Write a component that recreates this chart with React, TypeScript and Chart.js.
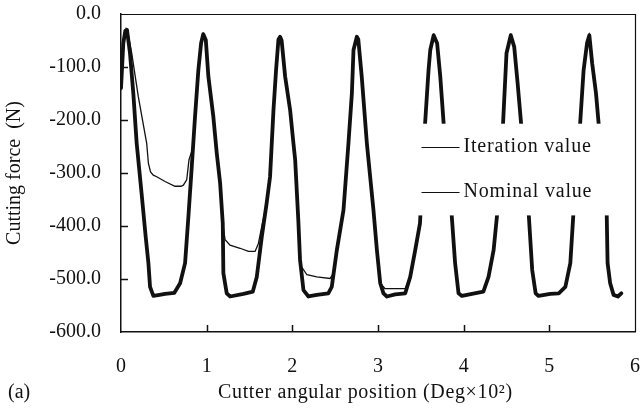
import React, { useEffect, useRef } from "react";
import { Chart, registerables } from "chart.js";

Chart.register(...registerables);

// Cutter angular position (Deg x 10^2) and cutting force (N)
const iterationX = [
  0.0, 0.027, 0.05, 0.07, 0.105, 0.144, 0.183, 0.24, 0.288, 0.32, 0.339, 0.378, 0.45, 0.514, 0.623, 0.69,
  0.748, 0.787, 0.826, 0.864, 0.903, 0.935, 0.96, 0.99, 1.02, 1.078, 1.118, 1.157, 1.188, 1.195, 1.234,
  1.273, 1.43, 1.538, 1.585, 1.644, 1.7, 1.74, 1.78, 1.81, 1.838, 1.857, 1.875, 1.916, 1.974, 2.013, 2.033,
  2.07, 2.09, 2.13, 2.188, 2.286, 2.42, 2.46, 2.52, 2.597, 2.655, 2.695, 2.714, 2.753, 2.77, 2.81, 2.87,
  2.947, 2.987, 3.026, 3.064, 3.104, 3.2, 3.318, 3.376, 3.435, 3.49, 3.55, 3.59, 3.61, 3.65, 3.69, 3.727,
  3.766, 3.86, 3.9, 3.94, 3.98, 4.097, 4.23, 4.29, 4.35, 4.39, 4.46, 4.5, 4.55, 4.59, 4.63, 4.67, 4.76,
  4.8, 4.84, 4.875, 5.01, 5.11, 5.187, 5.245, 5.28, 5.36, 5.4, 5.44, 5.467, 5.5, 5.545, 5.575, 5.67, 5.68,
  5.71, 5.75, 5.8, 5.84,
];
const iterationY = [
  -140, -55, -32, -30, -74, -150, -244, -338, -420, -470, -515, -532, -530, -528, -526, -508,
  -470, -382, -288, -194, -106, -55, -38, -49, -118, -194, -263, -319, -395, -489, -527,
  -533, -528, -524, -496, -420, -357, -307, -181, -106, -48, -43, -50, -118, -181, -244, -275,
  -390, -464, -521, -533, -530, -527, -515, -445, -370, -244, -150, -68, -43, -48, -118, -244,
  -370, -445, -508, -527, -533, -529, -527, -496, -445, -395, -206, -106, -68, -40, -55, -118,
  -206, -379, -470, -527, -532, -528, -524, -496, -445, -379, -206, -74, -40, -62, -131, -206, -379,
  -483, -527, -532, -528, -527, -515, -470, -379, -206, -106, -55, -40, -93, -150, -206, -379, -470,
  -508, -530, -533, -527,
];

const nominalX = [
  0.0, 0.027, 0.06, 0.08, 0.125, 0.202, 0.3, 0.32, 0.345, 0.377, 0.417, 0.514, 0.63, 0.7, 0.728, 0.767,
  0.794, 0.845, 0.864, 0.903, 0.935, 0.96, 0.99, 1.02, 1.078, 1.118, 1.157, 1.188, 1.215, 1.273, 1.39,
  1.487, 1.565, 1.604, 1.644, 1.7, 1.74, 1.78, 1.81, 1.838, 1.857, 1.875, 1.916, 1.974, 2.013, 2.033, 2.07,
  2.1, 2.17, 2.286, 2.44, 2.48, 2.52, 2.597, 2.655, 2.695, 2.714, 2.753, 2.77, 2.81, 2.87, 2.947, 2.987,
  3.026, 3.08, 3.318, 3.35, 3.376, 3.435, 3.49, 3.55, 3.59, 3.61, 3.65, 3.69, 3.727, 3.766, 3.86, 3.9,
  3.94, 3.98, 4.097, 4.23, 4.29, 4.35, 4.39, 4.46, 4.5, 4.55, 4.59, 4.63, 4.67, 4.76, 4.8, 4.84, 4.875,
  5.01, 5.11, 5.187, 5.245, 5.28, 5.36, 5.4, 5.44, 5.467, 5.5, 5.545, 5.575, 5.67, 5.68, 5.71, 5.75, 5.8,
  5.84,
];
const nominalY = [
  -140, -55, -28, -35, -74, -156, -244, -282, -298, -304, -307, -316, -325, -325, -323, -313,
  -275, -250, -200, -106, -55, -38, -49, -118, -194, -263, -319, -395, -426, -436, -442,
  -448, -448, -433, -400, -357, -307, -181, -106, -48, -43, -50, -118, -181, -244, -275, -390,
  -475, -492, -496, -499, -490, -445, -370, -244, -150, -68, -43, -48, -118, -244, -370, -445,
  -508, -518, -518, -505, -496, -445, -395, -206, -106, -68, -40, -55, -118, -206, -379, -470,
  -527, -532, -528, -524, -496, -445, -379, -206, -74, -40, -62, -131, -206, -379, -483, -527, -532,
  -528, -527, -515, -470, -379, -206, -106, -55, -40, -93, -150, -206, -379, -470, -508, -530, -533,
  -527,
];

const seriesNames = ["Iteration value", "Nominal value"];
const xTitle = "Cutter angular position (Deg\u00d710\u00b2)";
const yTitle = "Cutting force  (N)";
const panelLabel = "(a)";

const INK = "#111111";
const FONT = "'Liberation Serif', 'Times New Roman', serif";

const framePlugin = {
  id: "frameAndLegend",
  afterDatasetsDraw(chart: any) {
    const { ctx, chartArea, scales } = chart;
    const xs = scales.x;
    const ys = scales.y;
    ctx.save();
    // legend mask + entries
    const lx0 = xs.getPixelForValue(3.45);
    const ly0 = ys.getPixelForValue(-207);
    const ly1 = ys.getPixelForValue(-380);
    ctx.fillStyle = "#ffffff";
    ctx.fillRect(lx0, ly0, chartArea.right - lx0 - 1, ly1 - ly0);
    const rowY = [ys.getPixelForValue(-251), ys.getPixelForValue(-336)];
    ctx.strokeStyle = INK;
    ctx.lineWidth = 1.2;
    ctx.fillStyle = INK;
    ctx.font = `20px ${FONT}`;
    ctx.letterSpacing = "0.8px";
    ctx.textBaseline = "middle";
    ctx.textAlign = "left";
    seriesNames.forEach((name, i) => {
      const y = Math.round(rowY[i]) + 0.5;
      ctx.beginPath();
      ctx.moveTo(lx0 + 5, y);
      ctx.lineTo(lx0 + 43, y);
      ctx.stroke();
      ctx.fillText(name, lx0 + 47, rowY[i]);
    });
    ctx.letterSpacing = "0px";
    // frame top and right
    ctx.lineWidth = 1.2;
    ctx.beginPath();
    ctx.moveTo(chartArea.left, chartArea.top + 0.5);
    ctx.lineTo(chartArea.right + 0.5, chartArea.top + 0.5);
    ctx.lineTo(chartArea.right + 0.5, chartArea.bottom);
    ctx.stroke();
    // inward ticks
    ctx.lineWidth = 1.5;
    for (let v = 1; v <= 5; v++) {
      const px = Math.round(xs.getPixelForValue(v)) + 0.5;
      ctx.beginPath();
      ctx.moveTo(px, chartArea.bottom);
      ctx.lineTo(px, chartArea.bottom - 7);
      ctx.stroke();
    }
    for (let v = -500; v <= -100; v += 100) {
      const py = Math.round(ys.getPixelForValue(v)) + 0.5;
      ctx.beginPath();
      ctx.moveTo(chartArea.left, py);
      ctx.lineTo(chartArea.left + 7, py);
      ctx.stroke();
    }
    ctx.restore();
  },
  afterDraw(chart: any) {
    const { ctx } = chart;
    ctx.save();
    ctx.fillStyle = INK;
    ctx.font = `20px ${FONT}`;
    ctx.textBaseline = "middle";
    ctx.textAlign = "left";
    ctx.letterSpacing = "0.65px";
    ctx.fillText(xTitle, 218, 393);
    ctx.letterSpacing = "0px";
    ctx.fillText(panelLabel, 8, 393);
    ctx.restore();
  },
};

const zeroPad = (s: any) => {
  s.paddingTop = 0;
  s.paddingBottom = 0;
  s.paddingLeft = 0;
  s.paddingRight = 0;
};

export default function App() {
  const ref = useRef<HTMLCanvasElement | null>(null);
  useEffect(() => {
    if (!ref.current) return;
    const toPts = (xs: number[], ys: number[]) => xs.map((x, i) => ({ x, y: ys[i] }));
    const chart = new Chart(ref.current, {
      type: "line",
      data: {
        datasets: [
          {
            label: seriesNames[0],
            data: toPts(iterationX, iterationY),
            borderColor: INK,
            borderWidth: 3.8,
            pointRadius: 0,
            tension: 0,
            borderJoinStyle: "round",
            borderCapStyle: "round",
            order: 2,
          },
          {
            label: seriesNames[1],
            data: toPts(nominalX, nominalY),
            borderColor: INK,
            borderWidth: 1.3,
            pointRadius: 0,
            tension: 0,
            order: 1,
          },
        ],
      },
      options: {
        responsive: false,
        animation: false,
        events: [],
        layout: { padding: { top: 14, right: 5, left: 0, bottom: 0 } },
        plugins: { legend: { display: false }, tooltip: { enabled: false } },
        scales: {
          x: {
            type: "linear",
            min: 0,
            max: 6,
            grid: { display: false, drawTicks: false },
            border: { display: true, color: INK, width: 1.5 },
            ticks: {
              stepSize: 1,
              color: INK,
              padding: 23,
              maxRotation: 0,
              font: { family: FONT, size: 20 },
              callback: (v: any) => String(v),
            },
            afterFit: (s: any) => {
              s.height = 81;
              zeroPad(s);
            },
          },
          y: {
            type: "linear",
            min: -600,
            max: 0,
            grid: { display: false, drawTicks: false },
            border: { display: true, color: INK, width: 1.5 },
            ticks: {
              stepSize: 100,
              color: INK,
              padding: 20,
              font: { family: FONT, size: 20 },
              callback: (v: any) => Number(v).toFixed(1),
            },
            title: {
              display: true,
              text: yTitle,
              color: INK,
              font: { family: FONT, size: 20 },
              padding: { top: 3, bottom: 4 },
            },
            afterFit: (s: any) => {
              s.width = 121;
              zeroPad(s);
            },
          },
        },
      },
      plugins: [framePlugin],
    });
    return () => chart.destroy();
  }, []);
  return (
    <div style={{ position: "fixed", left: 0, top: 0, width: 640, height: 413, background: "#fff" }}>
      <canvas ref={ref} width={640} height={413} />
    </div>
  );
}
